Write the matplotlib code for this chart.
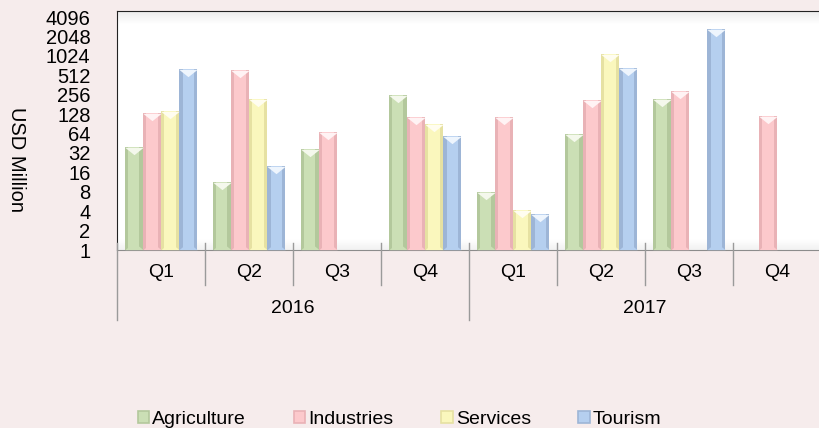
import numpy as np
import matplotlib
matplotlib.use('Agg')
import matplotlib.pyplot as plt
from matplotlib.patches import Patch
from matplotlib.path import Path
import matplotlib.transforms as mtransforms


years = ['2016', '2017']
quarters = ['Q1', 'Q2', 'Q3', 'Q4', 'Q1', 'Q2', 'Q3', 'Q4']
series = ['Agriculture', 'Industries', 'Services', 'Tourism']

agriculture = [40, 11.3, 36.4, 256, 8, 62, 217, np.nan]
industries = [135, 610, 67.5, 114, 116, 214, 288, 119]
services = [142, 219, np.nan, 90.7, 4.1, 1080, np.nan, np.nan]
tourism = [650, 20, np.nan, 57.8, 3.6, 662, 2630, np.nan]

y_ticks = [2 ** k for k in range(13)]

# main colour, side colour, highlight colour
colors = [('#cbdfb5', '#b3c89c', '#f4f8ec'),
          ('#fcc9cc', '#e9b2b6', '#fff3f4'),
          ('#faf7bd', '#e6e1a2', '#fffdf0'),
          ('#b5cfef', '#9db5d6', '#eef5fd')]

BG = '#f6ecec'
FONT = 'Liberation Sans'
plt.rcParams['font.family'] = [FONT, 'DejaVu Sans']

fig = plt.figure(figsize=(8.19, 4.28), dpi=100, facecolor=BG)
ax = fig.add_axes([117 / 819, 178 / 428, 704 / 819, 239 / 428])
ax.set_facecolor('white')

# faint shading at the edges of the plot area
grad = np.ones((100, 1))
grad[:6, 0] = np.linspace(0.93, 1.0, 6)
grad[-5:, 0] = np.linspace(1.0, 0.95, 5)
ax.imshow(grad, extent=[0, 1, 0, 1], transform=ax.transAxes, aspect='auto',
          cmap='gray', vmin=0, vmax=1, zorder=0)

ax.set_yscale('log', base=2)
ax.set_ylim(1, 2 ** 12.31)
ax.set_xlim(-0.5, 7.5)

w = 0.207
x = np.arange(len(quarters))
data = [agriculture, industries, services, tourism]

tri_down = Path([(-1, 0.4), (1, 0.4), (0, -0.4), (-1, 0.4)],
                [Path.MOVETO, Path.LINETO, Path.LINETO, Path.CLOSEPOLY])
tri_up = Path([(-1, -0.4), (1, -0.4), (0, 0.4), (-1, -0.4)],
              [Path.MOVETO, Path.LINETO, Path.LINETO, Path.CLOSEPOLY])
top_offset = mtransforms.offset_copy(ax.transData, fig=fig, y=-4, units='dots')
bot_offset = mtransforms.offset_copy(ax.transData, fig=fig, y=4, units='dots')

for i, vals in enumerate(data):
    vals = np.array(vals, dtype=float)
    ok = ~np.isnan(vals)
    xs = x[ok] + (i - 1.5) * w
    vs = vals[ok]
    main, side, light = colors[i]
    ax.bar(xs, vs - 1, bottom=1, width=w, color=side, zorder=2)
    ax.bar(xs, vs - 1, bottom=1, width=w * 0.62, color=main, zorder=3)
    ax.scatter(xs, vs, marker=tri_down, s=175, color=light, linewidths=0,
               transform=top_offset, zorder=4)
    ax.scatter(xs, np.ones_like(vs), marker=tri_up, s=175, color=main,
               linewidths=0, transform=bot_offset, zorder=4)

ax.set_yticks(y_ticks)
ax.set_yticklabels([str(t) for t in y_ticks])
ax.yaxis.set_minor_locator(matplotlib.ticker.NullLocator())
ax.tick_params(axis='y', length=0, pad=19, labelsize=14.5, colors='black')
ax.set_xticks([])

ax.spines['right'].set_visible(False)
ax.spines['top'].set_color('#222222')
ax.spines['left'].set_color('#222222')
ax.spines['bottom'].set_color('#8c8c8c')

ax.set_ylabel('USD Million', rotation=270, fontsize=14.5, va='center')
ax.yaxis.set_label_coords(-100 / 704, 0.377)

# two-level category axis
trans = mtransforms.blended_transform_factory(ax.transData, ax.transAxes)
for k, q in enumerate(quarters):
    ax.text(k, -0.096, q, transform=trans, ha='center', va='center', fontsize=14)
for k in range(len(quarters) - 1):
    if k == 3:
        continue
    ax.plot([k + 0.5, k + 0.5], [0.029, -0.146], transform=trans, color='#9a9a9a',
            lw=1, clip_on=False, zorder=5)
for b in [-0.5, 3.5, 7.5]:
    ax.plot([b, b], [0.029, -0.293], transform=trans, color='#9a9a9a',
            lw=1, clip_on=False, zorder=5)
for k, yr in enumerate(years):
    ax.text(1.5 + 4 * k, -0.243, yr, transform=trans, ha='center', va='center',
            fontsize=14)

handles = [Patch(facecolor=c[0], edgecolor=c[1], linewidth=1.2) for c in colors]
fig.legend(handles, series, loc='center', bbox_to_anchor=(0.488, 0.020),
           ncol=4, frameon=False, fontsize=14, handlelength=0.6,
           handleheight=0.6, handletextpad=0.15, columnspacing=2.45)

fig.savefig('out.png', dpi=100, facecolor=BG)
